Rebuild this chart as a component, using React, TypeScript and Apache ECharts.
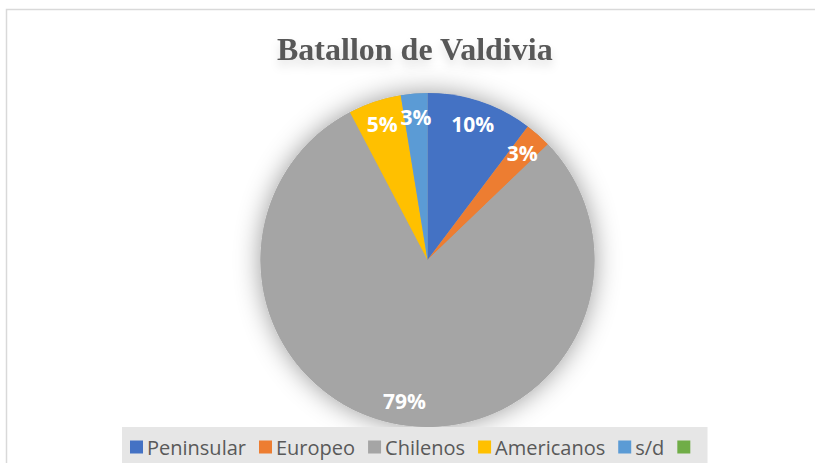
import React, { useEffect, useRef } from "react";
import * as echarts from "echarts";

const title = "Batallon de Valdivia";
const categories = ["Peninsular", "Europeo", "Chilenos", "Americanos", "s/d", " "];
const counts = [4, 1, 31, 2, 1, 0];
const colors = ["#4472c4", "#ed7d31", "#a5a5a5", "#ffc000", "#5b9bd5", "#70ad47"];

export default function App() {
  const ref = useRef<HTMLDivElement>(null);
  useEffect(() => {
    if (!ref.current) return;
    const chart = echarts.init(ref.current, null, { renderer: "svg" });
    const center = [427.5, 260];
    const R = 167;
    const total = counts.reduce((a, b) => a + b, 0);
    chart.setOption({
      animation: false,
      backgroundColor: "#ffffff",
      title: {
        text: title,
        left: 272,
        top: 28,
        textStyle: {
          fontFamily: "Liberation Serif",
          fontWeight: "bold",
          fontSize: 32,
          color: "#595959",
          textShadowColor: "rgba(0,0,0,0.12)",
          textShadowBlur: 10,
          textShadowOffsetY: 6,
        },
      },
      graphic: [
        {
          type: "rect",
          silent: true,
          z: -10,
          shape: { x: 6.5, y: 9.5, width: 1000, height: 700 },
          style: { fill: "none", stroke: "#d9d9d9", lineWidth: 1.5 },
        },
      ],
      legend: {
        top: 427,
        left: 122,
        selectedMode: false,
        backgroundColor: "#e6e6e6",
        padding: [10, 8, 14, 8],
        itemWidth: 13,
        itemHeight: 13,
        itemGap: 13,
        icon: "rect",
        textStyle: { fontFamily: "Open Sans", fontSize: 20, color: "#595959", padding: [0, 0, 0, -1] },
        data: categories.map((n, i) => ({ name: n, itemStyle: { color: colors[i] } })),
      },
      series: [
        {
          type: "pie",
          silent: true,
          center,
          radius: [0, R],
          z: 1,
          label: { show: false },
          labelLine: { show: false },
          itemStyle: {
            color: "#a5a5a5",
            shadowBlur: 26,
            shadowColor: "rgba(0,0,0,0.4)",
          },
          data: [{ name: "__shadow", value: 1 }],
        },
        {
          type: "pie",
          silent: true,
          center,
          radius: [0, R],
          startAngle: 90,
          clockwise: true,
          z: 2,
          label: { show: false },
          labelLine: { show: false },
          itemStyle: { borderWidth: 0 },
          data: categories.map((n, i) => ({ name: n, value: counts[i], itemStyle: { color: colors[i] } })),
        },
        {
          type: "pie",
          silent: true,
          center,
          radius: [112, 168],
          startAngle: 90,
          clockwise: true,
          z: 3,
          itemStyle: { color: "rgba(0,0,0,0)", borderWidth: 0 },
          label: {
            show: true,
            position: "inside",
            color: "#ffffff",
            fontFamily: "Open Sans",
            fontWeight: "bold",
            fontSize: 21,
            formatter: (p: any) => Math.round((p.value / total) * 100) + "%",
          },
          labelLine: { show: false },
          data: categories.map((n, i) => ({
            name: n,
            value: counts[i],
            label: counts[i] > 0 ? undefined : { show: false },
          })),
        },
      ],
    });
    return () => chart.dispose();
  }, []);
  return (
    <div
      ref={ref}
      style={{ position: "fixed", left: 0, top: 0, width: 815, height: 463 }}
    />
  );
}
